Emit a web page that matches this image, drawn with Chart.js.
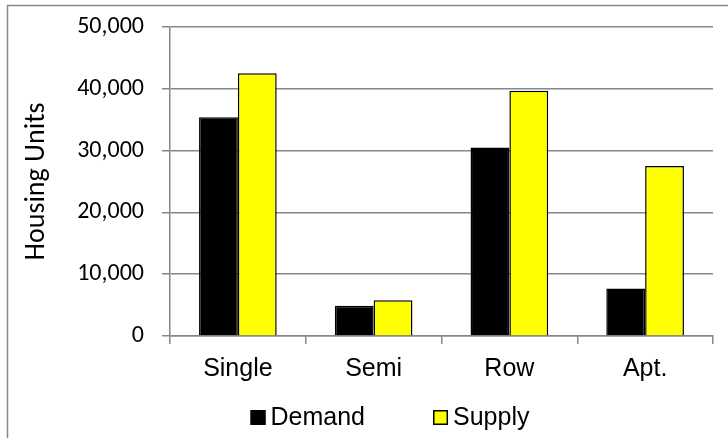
<!DOCTYPE html>
<html>
<head>
<meta charset="utf-8">
<script src="https://cdn.jsdelivr.net/npm/chart.js@4.4.1/dist/chart.umd.min.js"></script>
<style>
  html, body { margin: 0; padding: 0; background: #fff; }
  canvas { display: block; }
</style>
</head>
<body>
<canvas id="housing" width="728" height="438"></canvas>
<script>
// Housing units by dwelling type
const categories = ['Single', 'Semi', 'Row', 'Apt.'];
const demand = [35400, 4900, 30500, 7700];
const supply = [42500, 5800, 39700, 27500];
const yTicks = [0, 10000, 20000, 30000, 40000, 50000];
const seriesNames = ['Demand', 'Supply'];

const GRID = '#878787';
const SANS = "'Liberation Sans', Arial, sans-serif";
const HUMANIST = "Carlito, Lato, 'Open Sans', sans-serif";

// Thin frame along the top and left edges of the chart object
const frame = {
  id: 'frame',
  beforeDraw(chart) {
    const ctx = chart.ctx;
    ctx.save();
    ctx.fillStyle = '#fff';
    ctx.fillRect(0, 0, chart.width, chart.height);
    ctx.strokeStyle = GRID;
    ctx.lineWidth = 1.5;
    ctx.beginPath();
    ctx.moveTo(7.5, chart.height);
    ctx.lineTo(7.5, 5.5);
    ctx.lineTo(chart.width, 5.5);
    ctx.stroke();
    ctx.restore();
  }
};

// Compact legend row: square swatch followed closely by its label
const legendRow = {
  id: 'legendRow',
  afterDraw(chart, args, opts) {
    const ctx = chart.ctx;
    ctx.save();
    ctx.font = opts.font;
    const items = chart.data.datasets.map(ds => ({
      label: ds.label, fill: ds.backgroundColor, stroke: ds.borderColor
    }));
    const widths = items.map(it => opts.box + opts.textGap + ctx.measureText(it.label).width);
    const total = widths.reduce((a, b) => a + b, 0) + opts.itemGap * (items.length - 1);
    let x = opts.centerX - total / 2;
    items.forEach((it, i) => {
      const top = opts.baseline - opts.box;
      ctx.fillStyle = it.fill;
      ctx.fillRect(x, top, opts.box, opts.box);
      ctx.lineWidth = 1.5;
      ctx.strokeStyle = it.stroke;
      ctx.strokeRect(x + 0.75, top + 0.75, opts.box - 1.5, opts.box - 1.5);
      ctx.fillStyle = '#000';
      ctx.textBaseline = 'alphabetic';
      ctx.textAlign = 'left';
      ctx.fillText(it.label, x + opts.box + opts.textGap, opts.baseline);
      x += widths[i] + opts.itemGap;
    });
    ctx.restore();
  }
};

new Chart(document.getElementById('housing'), {
  type: 'bar',
  data: {
    labels: categories,
    datasets: [
      { label: seriesNames[0], data: demand, backgroundColor: '#000000', borderColor: '#000000', borderWidth: 1.5 },
      { label: seriesNames[1], data: supply, backgroundColor: '#ffff00', borderColor: '#000000', borderWidth: 1.5 }
    ]
  },
  options: {
    responsive: false,
    animation: false,
    devicePixelRatio: 1,
    categoryPercentage: 0.572,
    barPercentage: 1,
    layout: { padding: { left: 0, right: 15, top: 27, bottom: 40 } },
    plugins: {
      legend: { display: false },
      tooltip: { enabled: false },
      legendRow: { font: "25px " + SANS, box: 15, textGap: 5, itemGap: 68, centerX: 390, baseline: 425 }
    },
    scales: {
      x: {
        afterFit(s) { s.height = 62; },
        ticks: { font: { family: SANS, size: 25 }, color: '#000', padding: 10 },
        grid: { drawOnChartArea: false, drawTicks: true, tickLength: 8, color: GRID, lineWidth: 1.5, offset: true },
        border: { color: GRID, width: 1.5 }
      },
      y: {
        min: 0,
        max: 50000,
        afterFit(s) {
          s.width = 170;
          // the top gridline sits flush with the layout padding
          s.paddingTop = 0;
          s.paddingBottom = 0;
        },
        afterBuildTicks(s) { s.ticks = yTicks.map(v => ({ value: v })); },
        ticks: {
          font: { family: HUMANIST, size: 24 },
          color: '#000',
          padding: 18,
          callback: v => v.toLocaleString('en-US')
        },
        grid: { color: GRID, lineWidth: 1.5, tickLength: 8, drawTicks: true },
        border: { color: GRID, width: 1.5 },
        title: {
          display: true,
          text: 'Housing Units',
          font: { family: HUMANIST, size: 28 },
          color: '#000',
          padding: { top: 20, bottom: 0 }
        }
      }
    }
  },
  plugins: [frame, legendRow]
});
</script>
</body>
</html>
